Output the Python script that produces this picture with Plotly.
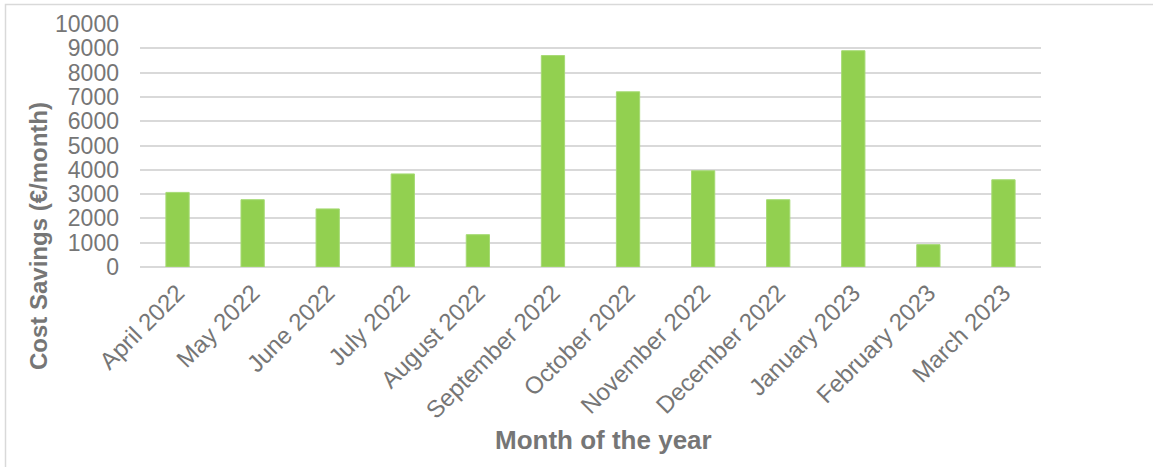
import plotly.graph_objects as go

months = ["April 2022", "May 2022", "June 2022", "July 2022", "August 2022",
          "September 2022", "October 2022", "November 2022", "December 2022",
          "January 2023", "February 2023", "March 2023"]
savings = [3070, 2770, 2390, 3830, 1330, 8700, 7210, 3960, 2770, 8900, 920, 3590]
y_ticks = list(range(0, 10001, 1000))

W, H = 1153, 467
L, R, T, B = 140, 1041, 24, 267  # plot area in px

def px_x(px):
    return (px - L) / (R - L)

def px_y(py):
    return (B - py) / (B - T)

fig = go.Figure(go.Bar(
    x=months, y=savings,
    marker=dict(color="#92D050", line=dict(color="#A6DA74", width=1)),
    width=0.31,
))

grey = "#767676"
fig.update_layout(
    width=W, height=H,
    margin=dict(l=L, r=W - R, t=T, b=H - B, autoexpand=False),
    paper_bgcolor="white", plot_bgcolor="white",
    font=dict(family="Liberation Sans, Arial, sans-serif", color=grey),
    showlegend=False,
    xaxis=dict(
        tickangle=-45, tickfont=dict(size=24, color=grey),
        showgrid=False, showline=False, ticks="", automargin=False,
        ticklabelstandoff=6,
    ),
    yaxis=dict(
        range=[0, 10000], tickvals=y_ticks, tickformat="d",
        tickfont=dict(size=23, color=grey),
        showgrid=True, gridcolor="#D9D9D9", gridwidth=1.5,
        zeroline=True, zerolinecolor="#D9D9D9", zerolinewidth=1.5,
        showline=False, ticks="", ticklabelstandoff=20, automargin=False,
    ),
    annotations=[
        dict(text="<b>Cost Savings (€/month)</b>", xref="paper", yref="paper",
             x=px_x(38), y=px_y(236), textangle=-90, showarrow=False,
             xanchor="center", yanchor="middle",
             font=dict(size=24, color=grey)),
        dict(text="<b>Month of the year</b>", xref="paper", yref="paper",
             x=px_x(603), y=px_y(440), showarrow=False,
             xanchor="center", yanchor="middle",
             font=dict(size=26, color=grey)),
    ],
    shapes=[
        dict(type="rect", xref="paper", yref="paper",
             x0=px_x(5.5), x1=px_x(1170), y0=px_y(480), y1=px_y(4.5),
             line=dict(color="#D9D9D9", width=1.5), fillcolor="rgba(0,0,0,0)",
             layer="below"),
    ],
)

fig.write_html("out.html",
               config={"displayModeBar": False},
               post_script="document.body.style.margin='0';document.body.style.overflow='hidden';")
